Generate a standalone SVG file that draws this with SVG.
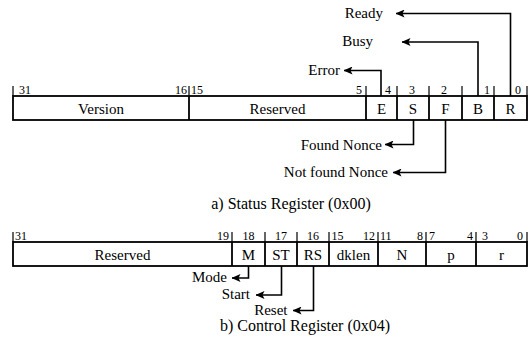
<svg xmlns="http://www.w3.org/2000/svg" width="531" height="337" viewBox="0 0 531 337">
  <style>
    text { font-family: "Liberation Serif", "Times New Roman", serif; fill: #000; }
    .lbl { font-size: 15px; text-anchor: middle; }
    .bit { font-size: 12px; }
    .mid { text-anchor: middle; }
    .end { text-anchor: end; }
    .name { font-size: 15px; text-anchor: end; }
    .cap { font-size: 16px; text-anchor: middle; }
    .box { fill: #fff; stroke: #000; stroke-width: 1.8; }
    .div { stroke: #000; stroke-width: 1.8; }
    .tick { stroke: #000; stroke-width: 1.2; }
    .wire { fill: none; stroke: #000; stroke-width: 1.6; }
  </style>
  <defs>
    <marker id="arrow" viewBox="0 0 9 8" refX="8.5" refY="4" markerWidth="9" markerHeight="8" markerUnits="userSpaceOnUse" orient="auto">
      <path d="M0,0 L9,4 L0,8 L2,4 Z" fill="#000"/>
    </marker>
  </defs>

  <!-- Status register (0x00) -->
  <g id="status-register">
    <rect class="box" x="13" y="96" width="514" height="24"/>
    <g class="tick">
      <line x1="13" y1="86" x2="13" y2="96"/>
      <line x1="189" y1="86" x2="189" y2="96"/>
      <line x1="366" y1="86" x2="366" y2="96"/>
      <line x1="397" y1="86" x2="397" y2="96"/>
      <line x1="429" y1="86" x2="429" y2="96"/>
      <line x1="462" y1="86" x2="462" y2="96"/>
      <line x1="494" y1="86" x2="494" y2="96"/>
      <line x1="527" y1="86" x2="527" y2="96"/>
    </g>
    <g class="div">
      <line x1="189" y1="96" x2="189" y2="120"/>
      <line x1="366" y1="96" x2="366" y2="120"/>
      <line x1="397" y1="96" x2="397" y2="120"/>
      <line x1="429" y1="96" x2="429" y2="120"/>
      <line x1="462" y1="96" x2="462" y2="120"/>
      <line x1="494" y1="96" x2="494" y2="120"/>
    </g>
    <g class="bit">
      <text x="19" y="94">31</text>
      <text class="end" x="187" y="94">16</text>
      <text x="191" y="94">15</text>
      <text class="end" x="362" y="94">5</text>
      <text class="end" x="391" y="94">4</text>
      <text class="mid" x="412" y="94">3</text>
      <text class="mid" x="444" y="94">2</text>
      <text class="end" x="490" y="94">1</text>
      <text class="end" x="521" y="94">0</text>
    </g>
    <g id="field-version"><text class="lbl" x="101" y="113.5">Version</text></g>
    <g id="field-reserved-s"><text class="lbl" x="277.5" y="113.5">Reserved</text></g>
    <g id="field-e"><text class="lbl" x="381.5" y="113.5">E</text></g>
    <g id="field-s"><text class="lbl" x="413" y="113.5">S</text></g>
    <g id="field-f"><text class="lbl" x="445.5" y="113.5">F</text></g>
    <g id="field-b"><text class="lbl" x="478" y="113.5">B</text></g>
    <g id="field-r"><text class="lbl" x="510.5" y="113.5">R</text></g>
  </g>

  <g id="status-names">
    <g id="name-ready"><text class="name" x="383" y="17.5">Ready</text></g>
    <g id="name-busy"><text class="name" x="373" y="46">Busy</text></g>
    <g id="name-error"><text class="name" x="340" y="75">Error</text></g>
    <g id="name-found"><text class="name" x="382" y="149.5">Found Nonce</text></g>
    <g id="name-notfound"><text class="name" x="388" y="177">Not found Nonce</text></g>
  </g>

  <text class="cap" x="291" y="209">a) Status Register (0x00)</text>

  <!-- Control register (0x04) -->
  <g id="control-register">
    <rect class="box" x="13" y="242" width="514" height="24"/>
    <g class="tick">
      <line x1="13" y1="232" x2="13" y2="242"/>
      <line x1="232" y1="232" x2="232" y2="242"/>
      <line x1="265" y1="232" x2="265" y2="242"/>
      <line x1="297" y1="232" x2="297" y2="242"/>
      <line x1="329" y1="232" x2="329" y2="242"/>
      <line x1="378" y1="232" x2="378" y2="242"/>
      <line x1="426" y1="232" x2="426" y2="242"/>
      <line x1="476" y1="232" x2="476" y2="242"/>
      <line x1="527" y1="232" x2="527" y2="242"/>
    </g>
    <g class="div">
      <line x1="232" y1="242" x2="232" y2="266"/>
      <line x1="265" y1="242" x2="265" y2="266"/>
      <line x1="297" y1="242" x2="297" y2="266"/>
      <line x1="329" y1="242" x2="329" y2="266"/>
      <line x1="378" y1="242" x2="378" y2="266"/>
      <line x1="426" y1="242" x2="426" y2="266"/>
      <line x1="476" y1="242" x2="476" y2="266"/>
    </g>
    <g class="bit">
      <text x="15" y="239.5">31</text>
      <text class="end" x="229" y="239.5">19</text>
      <text class="mid" x="248.5" y="239.5">18</text>
      <text class="mid" x="281" y="239.5">17</text>
      <text class="mid" x="313" y="239.5">16</text>
      <text x="331.5" y="239.5">15</text>
      <text class="end" x="375" y="239.5">12</text>
      <text x="380" y="239.5">11</text>
      <text class="end" x="423" y="239.5">8</text>
      <text x="429" y="239.5">7</text>
      <text class="end" x="473" y="239.5">4</text>
      <text x="482" y="239.5">3</text>
      <text class="end" x="523" y="239.5">0</text>
    </g>
    <g id="field-reserved-c"><text class="lbl" x="122.5" y="259.5">Reserved</text></g>
    <g id="field-m"><text class="lbl" x="248.5" y="259.5">M</text></g>
    <g id="field-st"><text class="lbl" x="281" y="259.5">ST</text></g>
    <g id="field-rs"><text class="lbl" x="313" y="259.5">RS</text></g>
    <g id="field-dklen"><text class="lbl" x="353.5" y="259.5">dklen</text></g>
    <g id="field-n"><text class="lbl" x="402" y="259.5">N</text></g>
    <g id="field-p"><text class="lbl" x="451" y="259.5">p</text></g>
    <g id="field-r2"><text class="lbl" x="501.5" y="259.5">r</text></g>
  </g>

  <g id="control-names">
    <g id="name-mode"><text class="name" x="227" y="282">Mode</text></g>
    <g id="name-start"><text class="name" x="250" y="299">Start</text></g>
    <g id="name-reset"><text class="name" x="287.5" y="315">Reset</text></g>
  </g>

  <text class="cap" x="305" y="331">b) Control Register (0x04)</text>

  <!-- bit-to-name connectors -->
  <g id="connectors" class="wire">
    <polyline points="510.5,96 510.5,13.5 396,13.5" marker-end="url(#arrow)"/>
    <polyline points="478,96 478,42 402,42" marker-end="url(#arrow)"/>
    <polyline points="381,96 381,70.5 344,70.5" marker-end="url(#arrow)"/>
    <polyline points="413.5,120 413.5,144.5 385,144.5" marker-end="url(#arrow)"/>
    <polyline points="445.5,120 445.5,172.5 393,172.5" marker-end="url(#arrow)"/>
    <polyline points="248.5,266 248.5,278 232,278" marker-end="url(#arrow)"/>
    <polyline points="281.5,266 281.5,295 256,295" marker-end="url(#arrow)"/>
    <polyline points="313.5,266 313.5,310.5 293,310.5" marker-end="url(#arrow)"/>
  </g>
</svg>
